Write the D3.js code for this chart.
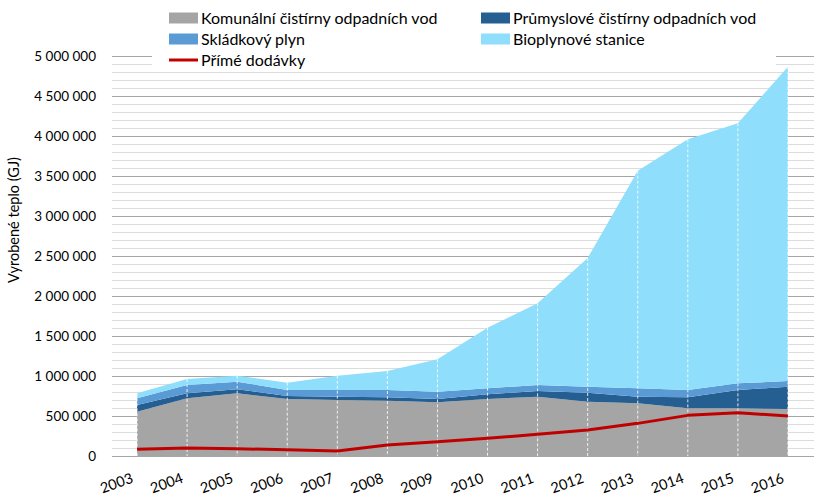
<!DOCTYPE html>
<html><head><meta charset="utf-8">
<script src="https://cdn.jsdelivr.net/npm/d3@7"></script>
<style>body{margin:0;background:#fff;} svg{display:block;font-family:Lato,"Open Sans",sans-serif;}</style>
</head><body><svg id="c" width="814" height="497"></svg>
<script>
const years = ["2003","2004","2005","2006","2007","2008","2009","2010","2011","2012","2013","2014","2015","2016"];
const komunalni  = [554000,721000,783000,712000,700000,692000,671000,712000,742000,679000,658000,596000,596000,587000];
const prumyslove = [83000,62000,50000,38000,42000,41000,41000,59000,70000,113000,84000,137000,229000,280000];
const skladkovy  = [84000,104000,96000,75000,83000,92000,92000,75000,75000,75000,104000,92000,83000,70000];
const bioplynove = [62000,75000,75000,92000,179000,237000,404000,758000,1021000,1608000,2721000,3133000,3250000,3930000];
const prime      = [84000,100000,90000,79000,62000,137000,179000,221000,271000,325000,408000,508000,542000,500000];
const seriesNames = ["Komunální čistírny odpadních vod","Průmyslové čistírny odpadních vod","Skládkový plyn","Bioplynové stanice"];
const lineName = "Přímé dodávky";
const yTicks = [0,500000,1000000,1500000,2000000,2500000,3000000,3500000,4000000,4500000,5000000];

const colors = ["#a5a5a5","#255e91","#5b9bd5","#8fdefc"];
const svg = d3.select("#c");
const x = d3.scalePoint().domain(years).range([112,813]).padding(0.5);
const y = d3.scaleLinear().domain([0,5000000]).range([456,56]);
const fmt = v => d3.format(",")(v).replace(/,/g," ");

// gridlines
const minor = d3.range(0,5000001,100000).filter(v=>v%500000!==0);
svg.append("g").selectAll("line").data(minor).join("line")
  .attr("x1",112).attr("x2",814).attr("y1",d=>y(d)+0.5).attr("y2",d=>y(d)+0.5)
  .attr("stroke","#dcdcdc").attr("stroke-width",1);
svg.append("g").selectAll("line").data(yTicks).join("line")
  .attr("x1",112).attr("x2",814).attr("y1",d=>y(d)+0.5).attr("y2",d=>y(d)+0.5)
  .attr("stroke","#a6a6a6").attr("stroke-width",1);

// stacked areas
const table = years.map((yr,i)=>({year:yr, k0:komunalni[i], k1:prumyslove[i], k2:skladkovy[i], k3:bioplynove[i]}));
const stacked = d3.stack().keys(["k0","k1","k2","k3"])(table);
const area = d3.area().x(d=>x(d.data.year)).y0(d=>y(d[0])).y1(d=>y(d[1]));
svg.append("g").selectAll("path").data(stacked).join("path")
  .attr("d",area).attr("fill",(d,i)=>colors[i]);

// drop lines
const topLayer = stacked[3];
svg.append("g").selectAll("line").data(topLayer).join("line")
  .attr("x1",d=>x(d.data.year)).attr("x2",d=>x(d.data.year))
  .attr("y1",d=>y(d[1])).attr("y2",y(0))
  .attr("stroke","#ffffff").attr("stroke-width",1).attr("stroke-dasharray","3,2").attr("opacity",0.85);

// red line
svg.append("path").datum(prime)
  .attr("d",d3.line().x((d,i)=>x(years[i])).y(d=>y(d)))
  .attr("fill","none").attr("stroke","#c00000").attr("stroke-width",3).attr("stroke-linejoin","round");

// y tick labels
svg.append("g").selectAll("text").data(yTicks).join("text")
  .attr("x",96).attr("y",d=>y(d)).attr("dy","0.35em").attr("text-anchor","end")
  .attr("font-size",13.5).attr("fill","#000").text(fmt);

// x tick labels
svg.append("g").selectAll("text").data(years).join("text")
  .attr("transform",d=>`translate(${x(d)-3},${482}) rotate(-20)`)
  .attr("text-anchor","end").attr("font-size",14.5).attr("fill","#000").text(d=>d);

// y title
svg.append("text").attr("transform","translate(19,220) rotate(-90)")
  .attr("text-anchor","middle").attr("font-size",14.5).text("Vyrobené teplo (GJ)");

// legend
svg.append("rect").attr("x",152).attr("y",0).attr("width",624).attr("height",68).attr("fill","#fff");
const leg = [
  {n:seriesNames[0], c:colors[0], x:169, y:18, t:"a"},
  {n:seriesNames[1], c:colors[1], x:481, y:18, t:"a"},
  {n:seriesNames[2], c:colors[2], x:169, y:39, t:"a"},
  {n:seriesNames[3], c:colors[3], x:481, y:39, t:"a"},
  {n:lineName, c:"#c00000", x:169, y:60, t:"l"}
];
const lg = svg.append("g").selectAll("g").data(leg).join("g").attr("transform",d=>`translate(${d.x},${d.y})`);
lg.filter(d=>d.t==="a").append("rect").attr("x",0).attr("y",-5.5).attr("width",29).attr("height",11).attr("fill",d=>d.c);
lg.filter(d=>d.t==="l").append("line").attr("x1",0).attr("x2",29).attr("y1",0).attr("y2",0).attr("stroke",d=>d.c).attr("stroke-width",3);
lg.append("text").attr("x",32).attr("y",0).attr("dy","0.35em").attr("font-size",16).text(d=>d.n);
</script></body></html>
